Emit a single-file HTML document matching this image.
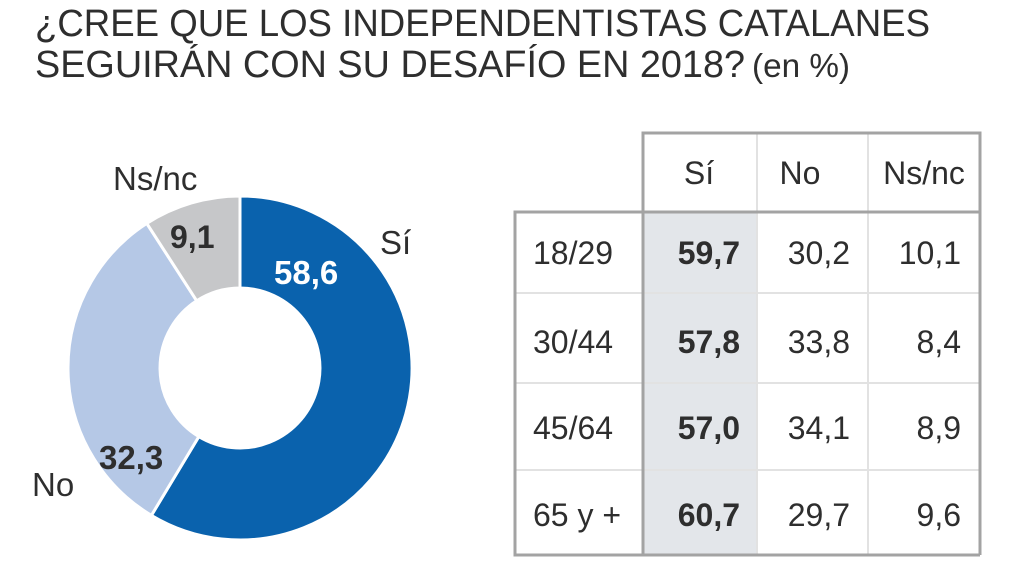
<!DOCTYPE html>
<html><head><meta charset="utf-8"><style>
html,body{margin:0;padding:0;background:#fff;}
svg{display:block;}
text{font-family:"Liberation Sans",sans-serif;fill:#2e2e2e;}
</style></head><body>
<svg width="1027" height="578" viewBox="0 0 1027 578" xmlns="http://www.w3.org/2000/svg">
<text x="35" y="36" font-size="38" textLength="895" lengthAdjust="spacingAndGlyphs">¿CREE QUE LOS INDEPENDENTISTAS CATALANES</text>
<text x="35" y="77" font-size="38" textLength="710" lengthAdjust="spacingAndGlyphs">SEGUIRÁN CON SU DESAFÍO EN 2018?</text>
<text x="752" y="77" font-size="33" textLength="98" lengthAdjust="spacingAndGlyphs" fill="#444">(en %)</text>

<g stroke="#fff" stroke-width="3">
<path d="M240,196 A172,172 0 1 1 151.4,515.4 L198.8,436.6 A80,80 0 1 0 240,288 Z" fill="#0a62ad"/>
<path d="M151.4,515.4 A172,172 0 0 1 146.8,223.4 L196.7,300.8 A80,80 0 0 0 198.8,436.6 Z" fill="#b5c8e6"/>
<path d="M146.8,223.4 A172,172 0 0 1 240,196 L240,288 A80,80 0 0 0 196.7,300.8 Z" fill="#c6c7c9"/>
</g>
<text x="113" y="190" font-size="33">Ns/nc</text>
<text x="170" y="248" font-size="32" font-weight="bold">9,1</text>
<text x="380" y="254" font-size="33">Sí</text>
<text x="274" y="284" font-size="33" font-weight="bold" style="fill:#fff">58,6</text>
<text x="99" y="469" font-size="33" font-weight="bold">32,3</text>
<text x="32" y="496" font-size="33">No</text>

<rect x="643" y="212" width="114" height="343" fill="#e3e6ea"/>
<g stroke="#e2e2e2" stroke-width="2">
<line x1="515" y1="293" x2="980" y2="293"/>
<line x1="515" y1="383" x2="980" y2="383"/>
<line x1="515" y1="470" x2="980" y2="470"/>
<line x1="757" y1="133" x2="757" y2="555"/>
<line x1="868" y1="133" x2="868" y2="555"/>
</g>
<g stroke="#a3a3a3" stroke-width="3" fill="none">
<polyline points="643,555 643,133 980,133 980,555"/>
<polyline points="980,212 515,212 515,555 980,555"/>
</g>
<g font-size="32" text-anchor="middle">
<text x="699" y="184">Sí</text>
<text x="800" y="184">No</text>
<text x="924" y="184">Ns/nc</text>
</g>
<g font-size="32">
<text x="533" y="264">18/29</text>
<text x="533" y="353">30/44</text>
<text x="533" y="439">45/64</text>
<text x="533" y="526">65 y +</text>
</g>
<g font-size="32" font-weight="bold" text-anchor="end">
<text x="740" y="264">59,7</text>
<text x="740" y="353">57,8</text>
<text x="740" y="439">57,0</text>
<text x="740" y="526">60,7</text>
</g>
<g font-size="32" text-anchor="end">
<text x="850" y="264">30,2</text>
<text x="850" y="353">33,8</text>
<text x="850" y="439">34,1</text>
<text x="850" y="526">29,7</text>
<text x="961" y="264">10,1</text>
<text x="961" y="353">8,4</text>
<text x="961" y="439">8,9</text>
<text x="961" y="526">9,6</text>
</g>
</svg>
</body></html>
